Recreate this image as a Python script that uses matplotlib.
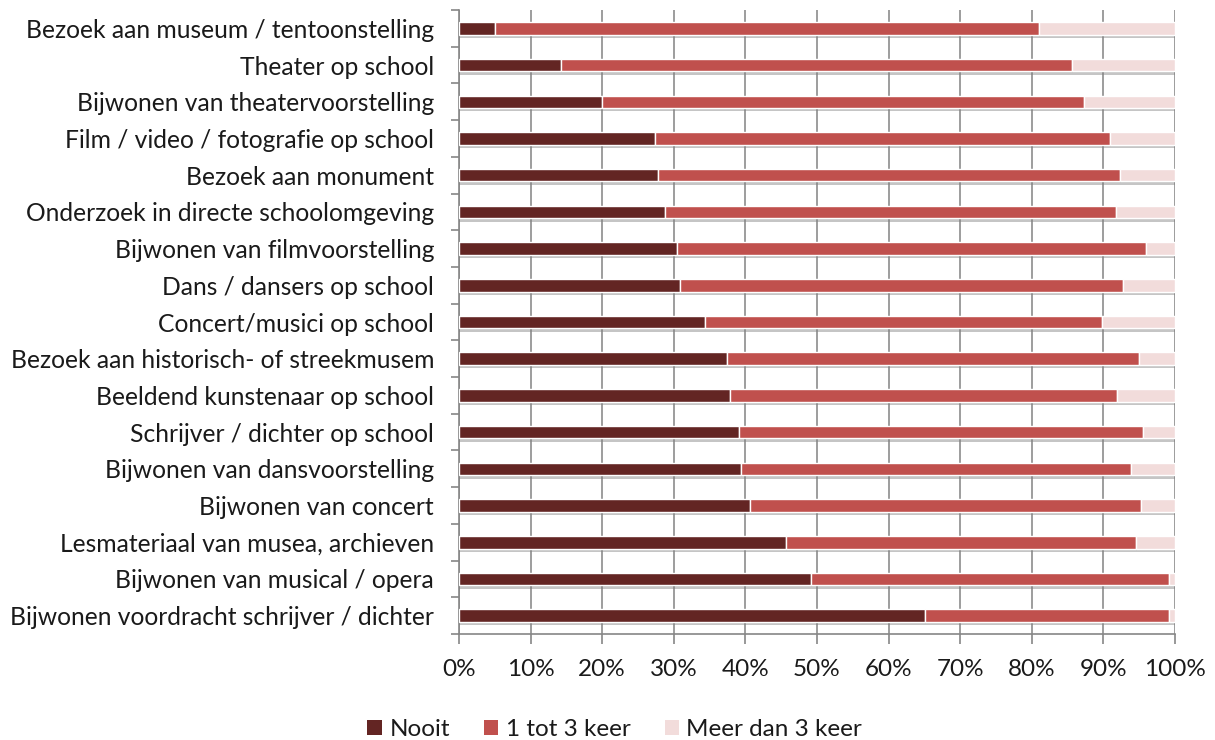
"""Gestapelde 100%-staafdiagram: hoe vaak culturele activiteiten voorkomen."""

import matplotlib

matplotlib.use("Agg")
import matplotlib.pyplot as plt  # noqa: E402
import matplotlib.patheffects as pe  # noqa: E402
from matplotlib.ticker import FixedLocator, PercentFormatter  # noqa: E402

CATEGORIES = [
    "Bezoek aan museum / tentoonstelling",
    "Theater op school",
    "Bijwonen van theatervoorstelling",
    "Film / video / fotografie op school",
    "Bezoek aan monument",
    "Onderzoek in directe schoolomgeving",
    "Bijwonen van filmvoorstelling",
    "Dans / dansers op school",
    "Concert/musici op school",
    "Bezoek aan historisch- of streekmusem",
    "Beeldend kunstenaar op school",
    "Schrijver / dichter op school",
    "Bijwonen van dansvoorstelling",
    "Bijwonen van concert",
    "Lesmateriaal van musea, archieven",
    "Bijwonen van musical / opera",
    "Bijwonen voordracht schrijver / dichter",
]
NOOIT = [5.0, 14.2, 20.0, 27.4, 27.8, 28.7, 30.4, 30.8, 34.4, 37.4, 37.9, 39.1, 39.4, 40.6, 45.6, 49.1, 65.1]
CUM_1_TOT_3 = [81.0, 85.6, 87.3, 90.9, 92.3, 91.8, 95.9, 92.7, 89.8, 95.0, 91.9, 95.5, 93.8, 95.2, 94.6, 99.1, 99.1]
EEN_TOT_DRIE = [c - n for c, n in zip(CUM_1_TOT_3, NOOIT)]
MEER_DAN_DRIE = [100 - c for c in CUM_1_TOT_3]
SERIES = [
    ("Nooit", NOOIT, "#632523"),
    ("1 tot 3 keer", EEN_TOT_DRIE, "#C0504D"),
    ("Meer dan 3 keer", MEER_DAN_DRIE, "#F2DCDB"),
]

FONT = ["Lato", "DejaVu Sans"]
plt.rcParams["font.family"] = FONT
TEXT_COLOR = "#1a1a1a"

fig = plt.figure(figsize=(12.15, 7.4), dpi=100)
ax = fig.add_axes([0.3778, 0.1432, 0.5893, 0.8433])

ys = list(range(len(CATEGORIES)))
shadow = [pe.SimplePatchShadow(offset=(0, -2.5), shadow_rgbFace="#808080", alpha=0.45), pe.Normal()]
left = [0.0] * len(CATEGORIES)
for name, values, color in SERIES:
    ax.barh(
        ys,
        values,
        left=left,
        height=0.34,
        color=color,
        edgecolor="white",
        linewidth=1.0,
        zorder=3,
        path_effects=shadow,
    )
    # plain proxy for the legend so the shadow does not show there
    ax.barh([0], [0], color=color, label=name)
    left = [a + b for a, b in zip(left, values)]

ax.set_xlim(0, 100)
ax.set_ylim(len(CATEGORIES) - 0.5, -0.5)
ax.set_xticks(range(0, 101, 10))
ax.xaxis.set_major_formatter(PercentFormatter(decimals=0))
ax.set_yticks(ys)
ax.set_yticklabels(CATEGORIES)
ax.yaxis.set_minor_locator(FixedLocator([y - 0.5 for y in ys] + [len(ys) - 0.5]))
ax.tick_params(axis="y", which="major", length=0, pad=18, labelsize=17.7, labelcolor=TEXT_COLOR)
ax.tick_params(axis="y", which="minor", length=6, width=1.2, color="#868686", direction="out")
ax.tick_params(axis="x", which="major", length=7, width=1.2, color="#868686", pad=11,
               labelsize=17.5, labelcolor=TEXT_COLOR)

ax.grid(axis="x", color="#8c8c8c", linewidth=1.2, zorder=0)
ax.set_axisbelow(True)
for side in ("top", "right"):
    ax.spines[side].set_visible(False)
for side in ("left", "bottom"):
    ax.spines[side].set_color("#868686")
    ax.spines[side].set_linewidth(1.2)

handles, labels = ax.get_legend_handles_labels()
leg = fig.legend(
    handles,
    labels,
    loc="lower center",
    bbox_to_anchor=(0.506, -0.03),
    ncol=3,
    frameon=False,
    fontsize=17.5,
    handlelength=0.6,
    handleheight=0.6,
    handletextpad=0.3,
    columnspacing=1.4,
)
for text in leg.get_texts():
    text.set_color(TEXT_COLOR)

fig.savefig("out.png", dpi=100)
